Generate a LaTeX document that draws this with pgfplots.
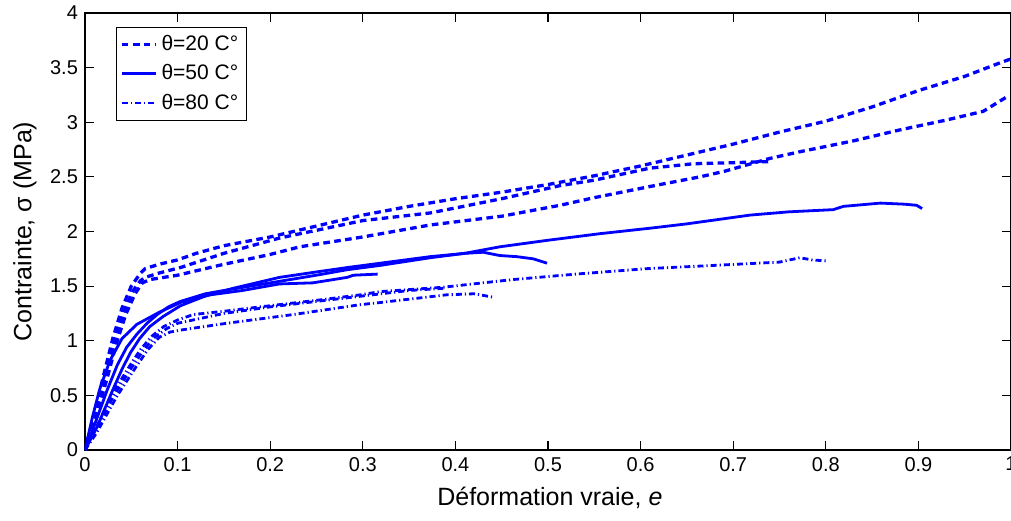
\documentclass[border=0pt]{standalone}
\usepackage{fontspec}
\setmainfont{Liberation Sans}
\usepackage{pgfplots}
\pgfplotsset{compat=1.18}
\usetikzlibrary{calc}
\definecolor{mblue}{RGB}{0,0,255}
\begin{document}
\begin{tikzpicture}
\begin{axis}[
  scale only axis,
  width=463pt, height=218.5pt,
  xmin=0, xmax=1, ymin=0, ymax=4,
  xtick={0,0.1,...,1.0},
  ytick={0,0.5,...,4},
  xticklabels={0,0.1,0.2,0.3,0.4,0.5,0.6,0.7,0.8,0.9,1},
  yticklabels={0,0.5,1,1.5,2,2.5,3,3.5,4},
  tick align=inside,
  xtick pos=both, ytick pos=both,
  major tick length=4.5pt,
  axis line style={line width=0.8pt},
  every tick/.style={black, line width=0.6pt},
  /pgf/number format/assume math mode=true,
  ticklabel style={font=\fontsize{10}{12}\selectfont},
  xlabel={Déformation vraie, \textit{e}},
  ylabel={Contrainte, σ (MPa)},
  label style={font=\fontsize{12.5}{15}\selectfont},
  x label style={at={(axis description cs:0.502,-0.11)}, anchor=center},
  y label style={at={(axis description cs:-0.065,0.5)}, anchor=center},
  legend style={at={(0.033,0.968)}, anchor=north west, draw=black, line width=0.5pt,
    font=\fontsize{10.5}{12}\selectfont, row sep=1.5pt, inner sep=2pt},
  legend cell align=left,
  every axis plot/.append style={line width=1.4pt, color=mblue},
]
% theta = 20 (dashed)
\addplot[line width=1.65pt, dash pattern=on 3.3pt off 2.2pt] coordinates {
(0,0) (0.01,0.33) (0.02,0.68) (0.03,1.02) (0.04,1.30) (0.05,1.50) (0.06,1.62) (0.065,1.66)
(0.08,1.70) (0.1,1.74) (0.12,1.80) (0.15,1.87) (0.2,1.95) (0.25,2.05) (0.3,2.15) (0.35,2.23)
(0.4,2.30) (0.45,2.36) (0.5,2.43) (0.55,2.51) (0.6,2.60) (0.65,2.70) (0.7,2.80) (0.75,2.91)
(0.8,3.01) (0.85,3.14) (0.9,3.29) (0.95,3.42) (0.99,3.55) (1.0,3.58)};
\addlegendentry{θ=20 C°}
\addplot[line width=1.4pt] coordinates {(0.3,-1) (0.31,-1)};
\addlegendentry{θ=50 C°}
\addplot[dash pattern=on 3pt off 1.5pt on 0.6pt off 1.5pt] coordinates {(0.3,-1) (0.31,-1)};
\addlegendentry{θ=80 C°}
\addplot[line width=1.65pt, dash pattern=on 3.3pt off 2.2pt, forget plot] coordinates {
(0,0) (0.012,0.35) (0.022,0.68) (0.032,1.0) (0.042,1.27) (0.052,1.46) (0.06,1.55) (0.065,1.58)
(0.08,1.62) (0.103,1.67) (0.15,1.80) (0.21,1.94) (0.3,2.10) (0.373,2.17) (0.45,2.30)
(0.513,2.42) (0.55,2.47) (0.61,2.58) (0.657,2.62) (0.70,2.63) (0.74,2.64)};
\addplot[line width=1.65pt, dash pattern=on 3.3pt off 2.2pt, forget plot] coordinates {
(0,0) (0.013,0.33) (0.024,0.66) (0.034,0.98) (0.044,1.24) (0.054,1.43) (0.062,1.53) (0.07,1.56)
(0.1,1.60) (0.15,1.70) (0.2,1.79) (0.232,1.86) (0.3,1.95) (0.373,2.06) (0.45,2.14) (0.513,2.24)
(0.55,2.31) (0.621,2.43) (0.664,2.50) (0.69,2.55) (0.715,2.61) (0.74,2.67) (0.772,2.73)
(0.83,2.83) (0.88,2.93) (0.93,3.02) (0.97,3.10) (0.995,3.23)};
% theta = 50 (solid)
\addplot[forget plot] coordinates {
(0,0) (0.009,0.2) (0.024,0.55) (0.035,0.78) (0.045,0.94) (0.056,1.06) (0.067,1.16) (0.078,1.24) (0.09,1.31) (0.103,1.36) (0.13,1.43)
(0.15,1.46) (0.2,1.53) (0.25,1.60) (0.283,1.65) (0.319,1.69) (0.373,1.76) (0.41,1.80)
(0.448,1.86) (0.5,1.92) (0.556,1.98) (0.61,2.03) (0.65,2.07) (0.718,2.15) (0.76,2.18)
(0.808,2.20) (0.819,2.23) (0.859,2.26) (0.885,2.25) (0.898,2.24) (0.904,2.21)};
\addplot[forget plot] coordinates {
(0,0) (0.013,0.21) (0.03,0.55) (0.04,0.74) (0.049,0.89) (0.059,1.02) (0.07,1.13) (0.084,1.22) (0.103,1.32) (0.13,1.41)
(0.16,1.48) (0.21,1.58) (0.25,1.63) (0.283,1.67) (0.319,1.71) (0.373,1.77) (0.41,1.80)
(0.43,1.81) (0.448,1.78) (0.466,1.77) (0.484,1.75) (0.499,1.71)};
\addplot[forget plot] coordinates {
(0,0) (0.008,0.3) (0.016,0.56) (0.027,0.82) (0.04,1.02) (0.056,1.15) (0.08,1.26) (0.103,1.35) (0.135,1.42)
(0.17,1.46) (0.21,1.52) (0.246,1.53) (0.283,1.58) (0.29,1.60) (0.316,1.61)};
% theta = 80 (dash-dot)
\addplot[dash pattern=on 3pt off 1.5pt on 0.6pt off 1.5pt, forget plot] coordinates {
(0,0) (0.01,0.17) (0.03,0.52) (0.049,0.78) (0.06,0.92) (0.072,1.04) (0.085,1.13) (0.1,1.19) (0.117,1.24)
(0.15,1.27) (0.189,1.31) (0.25,1.37) (0.297,1.42) (0.319,1.45) (0.387,1.49) (0.462,1.56)
(0.53,1.61) (0.607,1.66) (0.68,1.69) (0.75,1.72) (0.772,1.76) (0.785,1.74) (0.802,1.73)};
\addplot[dash pattern=on 3pt off 1.5pt on 0.6pt off 1.5pt, forget plot] coordinates {
(0,0) (0.01,0.15) (0.03,0.48) (0.05,0.75) (0.062,0.9) (0.075,1.03) (0.088,1.11) (0.1,1.16) (0.15,1.25)
(0.2,1.31) (0.25,1.36) (0.3,1.41) (0.35,1.46) (0.387,1.48)};
\addplot[dash pattern=on 3pt off 1.5pt on 0.6pt off 1.5pt, forget plot] coordinates {
(0,0) (0.012,0.15) (0.035,0.5) (0.055,0.76) (0.068,0.92) (0.08,1.03) (0.092,1.08) (0.105,1.10) (0.153,1.16)
(0.225,1.24) (0.297,1.33) (0.319,1.35) (0.39,1.42) (0.42,1.43) (0.44,1.40)};
\end{axis}
\pgfresetboundingbox
\path[use as bounding box] ($(current axis.south west)+(-42.5pt,-35pt)$) rectangle ($(current axis.north east)+(0pt,6.5pt)$);
\end{tikzpicture}
\end{document}
